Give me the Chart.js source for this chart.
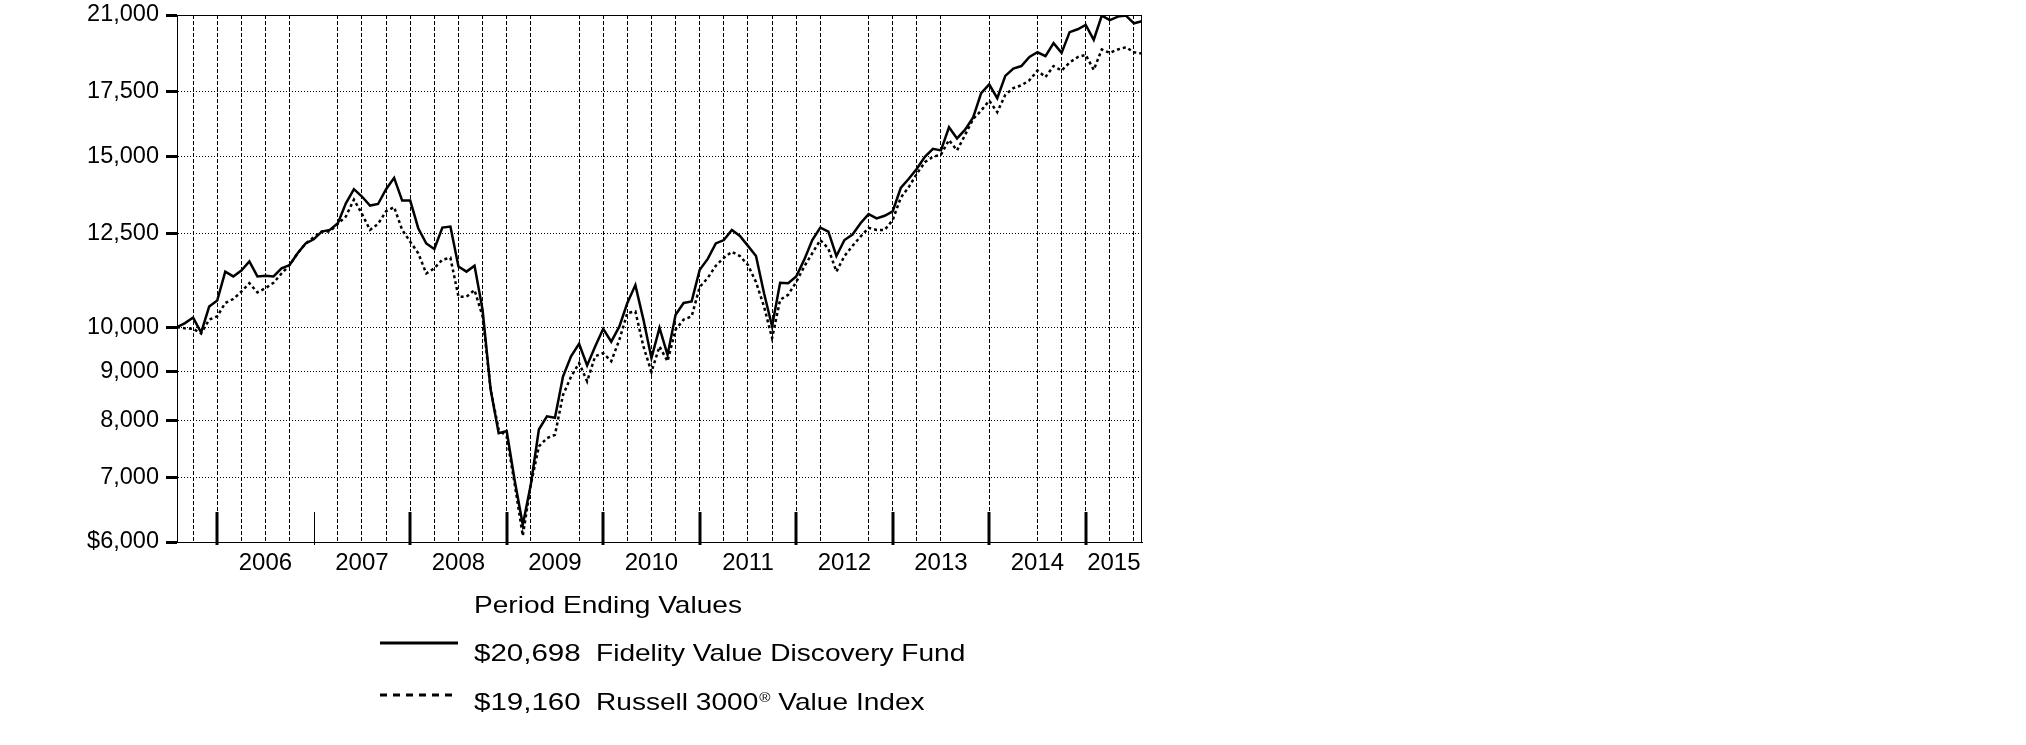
<!DOCTYPE html>
<html>
<head>
<meta charset="utf-8">
<title>Hypothetical Growth of $10,000</title>
<script src="https://cdn.jsdelivr.net/npm/chart.js@4.4.1/dist/chart.umd.min.js"></script>
<style>
  html, body { margin: 0; padding: 0; background: #fff; }
  #wrap { width: 2026px; height: 745px; }
</style>
</head>
<body>
<div id="wrap"><canvas id="growth" width="2026" height="745"></canvas></div>
<script>
// month-end value of $10,000, Jul 2005 .. Jul 2015
const startYear = 2005;
const startMonth = 6; // July
const fundName = 'Fidelity Value Discovery Fund';
const indexName = 'Russell 3000® Value Index';

const fundValues = [
  10000, 10095, 10230, 9870, 10500, 10650, 11410, 11280, 11440, 11690, 11280, 11300,
  11280, 11500, 11590, 11920, 12200, 12320, 12550, 12600, 12800, 13420, 13880, 13640,
  13350, 13400, 13880, 14260, 13510, 13510, 12650, 12200, 12040, 12670, 12700, 11550,
  11410, 11570, 10420, 8620, 7770, 7810, 6940, 6250, 6880, 7840, 8090, 8060,
  8890, 9330, 9610, 9130, 9550, 9960, 9660, 10010, 10590, 11050, 10180, 9290,
  9980, 9360, 10300, 10590, 10630, 11460, 11760, 12200, 12300, 12600, 12420, 12130,
  11840, 10840, 10020, 11110, 11100, 11280, 11740, 12300, 12670, 12550, 11840, 12300,
  12460, 12800, 13080, 12950, 13030, 13170, 13920, 14230, 14570, 14990, 15280, 15220,
  16080, 15660, 15990, 16460, 17440, 17810, 17230, 18170, 18490, 18600, 19010, 19220,
  19040, 19640, 19190, 20160, 20300, 20510, 19800, 20970, 20750, 20920, 20970, 20590,
  20698
];

const indexValues = [
  10000, 9970, 9960, 9850, 10180, 10260, 10590, 10690, 10880, 11100, 10860, 10970,
  11110, 11360, 11590, 11920, 12200, 12380, 12550, 12550, 12780, 13010, 13540, 13090,
  12600, 12780, 13170, 13300, 12600, 12250, 11920, 11360, 11500, 11740, 11790, 10750,
  10750, 10920, 10260, 8620, 7840, 7710, 6880, 6090, 6880, 7530, 7680, 7740,
  8510, 8890, 9180, 8790, 9330, 9400, 9220, 9700, 10340, 10380, 9550, 8990,
  9550, 9220, 9940, 10180, 10260, 11000, 11240, 11570, 11790, 11960, 11840, 11590,
  11130, 10500, 9740, 10670, 10800, 11130, 11550, 11920, 12300, 12050, 11410, 11840,
  12130, 12400, 12660, 12600, 12600, 12900, 13600, 13950, 14400, 14800, 14990, 15070,
  15600, 15220, 15790, 16400, 16730, 17130, 16670, 17370, 17650, 17770, 17980, 18400,
  18120, 18600, 18400, 18760, 19000, 19100, 18430, 19350, 19190, 19350, 19450, 19220,
  19160
];

const yTicks = [6000, 7000, 8000, 9000, 10000, 12500, 15000, 17500, 21000];
const yTickLabels = ['$6,000', '7,000', '8,000', '9,000', '10,000', '12,500', '15,000', '17,500', '21,000'];
const yearLabels = ['2006', '2007', '2008', '2009', '2010', '2011', '2012', '2013', '2014', '2015'];
const hiddenGridMonths = ['Dec 2006', 'Jun 2009', 'Jun 2012', 'Sep 2013', 'Mar 2014'];
const thinTickMonths = ['Dec 2006'];

const monthNames = ['Jan', 'Feb', 'Mar', 'Apr', 'May', 'Jun', 'Jul', 'Aug', 'Sep', 'Oct', 'Nov', 'Dec'];
const monthLabels = fundValues.map((_, i) => {
  const t = startMonth + i;
  return monthNames[t % 12] + ' ' + (startYear + Math.floor(t / 12));
});
const lastIdx = monthLabels.length - 1;

// quarter-end grid positions, year-end tick positions, year label centres
const gridIdx = [];
const decIdx = [];
monthLabels.forEach((m, i) => {
  const name = m.slice(0, 3);
  if (i > 0 && i < lastIdx && ['Mar', 'Jun', 'Sep', 'Dec'].includes(name)) gridIdx.push(i);
  if (name === 'Dec') decIdx.push(i);
});
const gridSet = new Set(gridIdx.filter(i => !hiddenGridMonths.includes(monthLabels[i])));
const yearPos = new Map();
decIdx.forEach((d, k) => {
  const next = k + 1 < decIdx.length ? decIdx[k + 1] : lastIdx;
  yearPos.set((d + next) / 2, yearLabels[k]);
});
const xTickValues = Array.from(new Set([...gridIdx, ...yearPos.keys()])).sort((a, b) => a - b);

const FONT = '"Liberation Sans", Arial, Helvetica, sans-serif';

const frameAndLegend = {
  id: 'frameAndLegend',
  afterDraw(chart) {
    const { ctx, chartArea: a, scales: { x } } = chart;
    ctx.save();
    ctx.strokeStyle = '#000';
    ctx.setLineDash([]);

    // plot frame
    ctx.lineWidth = 1;
    ctx.strokeRect(Math.round(a.left) + 0.5, Math.round(a.top) + 0.5,
      Math.round(a.right - a.left) - 1, Math.round(a.bottom - a.top));

    // year-end marks, drawn upward from the axis
    decIdx.forEach(i => {
      const thin = thinTickMonths.includes(monthLabels[i]);
      const px = Math.round(x.getPixelForValue(i)) + (thin ? 0.5 : 0);
      ctx.lineWidth = thin ? 1 : 3;
      ctx.beginPath();
      ctx.moveTo(px, a.bottom - 30);
      ctx.lineTo(px, a.bottom + 3);
      ctx.stroke();
    });

    // legend
    ctx.fillStyle = '#000';
    ctx.textBaseline = 'alphabetic';
    const text = (str, px, py, size, stretch) => {
      ctx.save();
      ctx.font = size + 'px ' + FONT;
      ctx.translate(px, py);
      ctx.scale(stretch, 1);
      ctx.fillText(str, 0, 0);
      const w = ctx.measureText(str).width * stretch;
      ctx.restore();
      return w;
    };
    const label = (str, px, py) => {
      const parts = str.split('®');
      let cx = px;
      parts.forEach((p, k) => {
        cx += text(p, cx, py, 24, 1.17);
        if (k < parts.length - 1) cx += text('®', cx + 1, py - 8, 13, 1.17) + 1;
      });
    };

    text('Period Ending Values', 474, 613, 24, 1.17);
    const rows = [
      { ds: chart.data.datasets[0], lineY: 643, textY: 661, dash: [] },
      { ds: chart.data.datasets[1], lineY: 695, textY: 710, dash: [7, 6] }
    ];
    rows.forEach(r => {
      ctx.lineWidth = 3;
      ctx.strokeStyle = r.ds.borderColor;
      ctx.setLineDash(r.dash);
      ctx.beginPath();
      ctx.moveTo(380, r.lineY);
      ctx.lineTo(458, r.lineY);
      ctx.stroke();
      const last = r.ds.data[r.ds.data.length - 1].y;
      text('$' + last.toLocaleString('en-US'), 474, r.textY, 24, 1.23);
      label(r.ds.label, 596, r.textY);
    });
    ctx.restore();
  }
};

new Chart(document.getElementById('growth'), {
  type: 'line',
  data: {
    datasets: [
      {
        label: fundName,
        data: fundValues.map((v, i) => ({ x: i, y: v })),
        borderColor: '#000',
        borderWidth: 2.5,
        fill: false
      },
      {
        label: indexName,
        data: indexValues.map((v, i) => ({ x: i, y: v })),
        borderColor: '#000',
        borderWidth: 2.5,
        borderDash: [3, 3],
        fill: false
      }
    ]
  },
  options: {
    responsive: false,
    animation: false,
    devicePixelRatio: 1,
    layout: { padding: { left: 0, top: 15, right: 884, bottom: 163 } },
    elements: { point: { radius: 0 }, line: { tension: 0 } },
    plugins: { legend: { display: false }, tooltip: { enabled: false } },
    scales: {
      x: {
        type: 'linear',
        min: 0,
        max: lastIdx,
        afterBuildTicks: s => { s.ticks = xTickValues.map(v => ({ value: v })); },
        afterFit: s => { s.height = 40; },
        ticks: {
          autoSkip: false,
          maxRotation: 0,
          padding: 7,
          color: '#000',
          font: { family: FONT, size: 24 },
          callback: v => yearPos.get(v) || ''
        },
        grid: {
          drawTicks: false,
          lineWidth: 1,
          borderDash: [4, 2],
          color: c => (c.tick && gridSet.has(c.tick.value)) ? '#000' : 'rgba(0,0,0,0)'
        },
        border: { display: true, color: '#000', dash: [4, 2] }
      },
      y: {
        type: 'logarithmic',
        min: 6000,
        max: 21000,
        afterBuildTicks: s => { s.ticks = yTicks.map(v => ({ value: v })); },
        afterFit: s => { s.width = 177; },
        ticks: {
          autoSkip: false,
          padding: 7,
          color: '#000',
          font: { family: FONT, size: 23.5, lineHeight: 0.5 },
          callback: (v, i) => yTickLabels[i]
        },
        grid: {
          drawTicks: true,
          tickLength: 11,
          tickWidth: 3,
          tickColor: '#000',
          tickBorderDash: [],
          lineWidth: 1,
          borderDash: [1, 2],
          color: c => (c.tick && (c.tick.value === 6000 || c.tick.value === 21000)) ? 'rgba(0,0,0,0)' : '#000'
        },
        border: { display: true, color: '#000', dash: [1, 2] }
      }
    }
  },
  plugins: [frameAndLegend]
});
</script>
</body>
</html>
